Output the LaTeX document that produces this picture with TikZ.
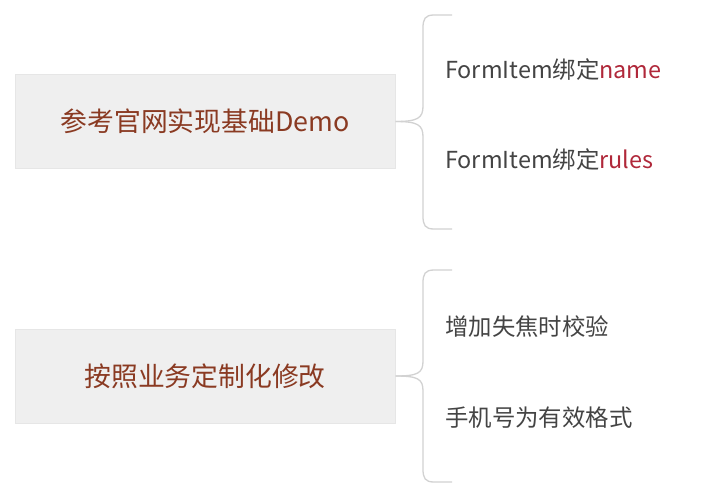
\documentclass[tikz,border=0pt]{standalone}
\usepackage{fontspec}
\setmainfont{Noto Sans CJK SC}
\definecolor{boxfill}{HTML}{EFEFEF}
\definecolor{boxline}{HTML}{E6E6E6}
\definecolor{boxtext}{HTML}{8A3A22}
\definecolor{itemtext}{HTML}{444444}
\definecolor{hl}{HTML}{B0283A}
\definecolor{brace}{HTML}{D2D2D2}
\begin{document}
\begin{tikzpicture}[x=1pt,y=1pt,
  mainbox/.style={draw=boxline,fill=boxfill,line width=1pt,minimum width=380pt,minimum height=94pt,inner sep=0pt,text=boxtext,font=\fontsize{26.8}{30}\selectfont},
  item/.style={anchor=west,inner sep=0pt,text=itemtext,font=\fontsize{23.4}{27}\selectfont},
  bracel/.style={draw=brace,line width=1.3pt}]
\useasboundingbox (0,0) rectangle (714,-493);
\fill[white] (0,0) rectangle (714,-493);
\node[mainbox] (box1) at (205,-121.5) {参考官网实现基础Demo};
\node[mainbox] (box2) at (205,-376) {按照业务定制化修改};
\node[item] (t1) at (445,-70) {FormItem绑定\textcolor{hl}{name}};
\node[item] (t2) at (445,-160) {FormItem绑定\textcolor{hl}{rules}};
\node[item] (t3) at (445,-327) {增加失焦时校验};
\node[item] (t4) at (445,-418) {手机号为有效格式};
% brace 1
\coordinate (b1top) at (452,-15);
\coordinate (b1bot) at (452,-229);
\draw[bracel] (b1top) -- (434,-15) .. controls (425,-15) and (423,-19) .. (423,-28)
  -- (423,-106) .. controls (423,-118) and (418,-121.5) .. (box1.east);
\draw[bracel] (box1.east) .. controls (418,-121.5) and (423,-125) .. (423,-137)
  -- (423,-216) .. controls (423,-225) and (425,-229) .. (434,-229) -- (b1bot);
% brace 2
\coordinate (b2top) at (452,-270);
\coordinate (b2bot) at (452,-482);
\draw[bracel] (b2top) -- (434,-270) .. controls (425,-270) and (423,-274) .. (423,-283)
  -- (423,-361) .. controls (423,-373) and (418,-376) .. (box2.east);
\draw[bracel] (box2.east) .. controls (418,-376) and (423,-379) .. (423,-391)
  -- (423,-469) .. controls (423,-478) and (425,-482) .. (434,-482) -- (b2bot);
\end{tikzpicture}
\end{document}
